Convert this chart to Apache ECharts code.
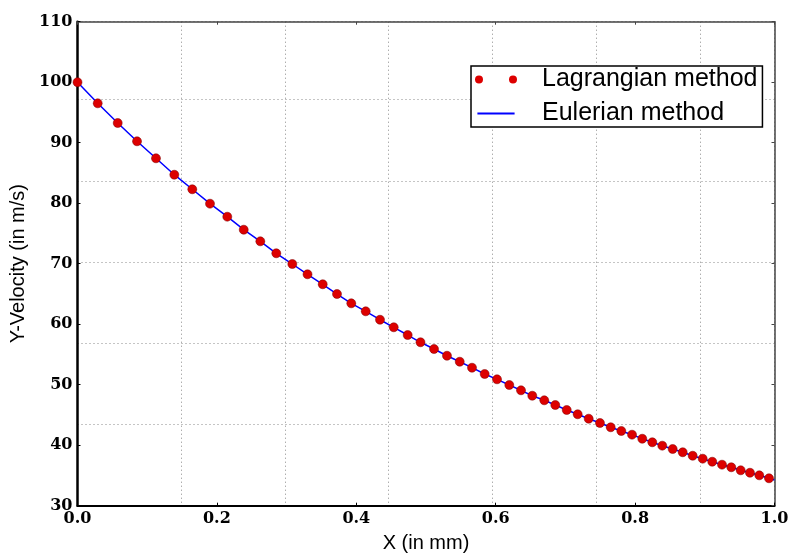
<!DOCTYPE html>
<html>
<head>
<meta charset="utf-8">
<script src="https://cdn.jsdelivr.net/npm/echarts@6/dist/echarts.min.js"></script>
<style>
html,body{margin:0;padding:0;background:#fff;}
#chart{width:791px;height:554px;}
</style>
</head>
<body>
<div id="chart"></div>
<script>
// Lagrangian method (markers)
const lagX = [0.000,0.029,0.0577,0.0854,0.1126,0.1389,0.1647,0.1901,0.2149,0.2385,0.2623,0.2852,0.3082,0.3300,0.3518,0.3723,0.3928,0.4135,0.4340,0.4537,0.4737,0.4921,0.5115,0.5301,0.5484,0.5660,0.5842,0.6019,0.6195,0.6363,0.6525,0.6697,0.6855,0.7019,0.7176,0.7334,0.7496,0.7650,0.7802,0.7956,0.8103,0.8247,0.8390,0.8539,0.8683,0.8826,0.8970,0.9107,0.9247,0.9380,0.9515,0.9648,0.9782,0.9921];
const lagY = [100.0,96.51,93.26,90.23,87.42,84.71,82.30,79.92,77.77,75.62,73.70,71.72,69.95,68.25,66.60,64.99,63.45,62.13,60.74,59.49,58.21,57.01,55.90,54.79,53.80,52.81,51.77,50.89,49.95,49.07,48.18,47.42,46.64,45.82,45.11,44.38,43.67,42.96,42.35,41.74,41.07,40.48,39.92,39.37,38.83,38.26,37.77,37.27,36.78,36.35,35.85,35.45,35.02,34.53];
// Eulerian method (line)
const eulX = [0.000,0.029,0.0577,0.0854,0.1126,0.1389,0.1647,0.1901,0.2149,0.2385,0.2623,0.2852,0.3082,0.3300,0.3518,0.3723,0.3928,0.4135,0.4340,0.4537,0.4737,0.4921,0.5115,0.5301,0.5484,0.5660,0.5842,0.6019,0.6195,0.6363,0.6525,0.6697,0.6855,0.7019,0.7176,0.7334,0.7496,0.7650,0.7802,0.7956,0.8103,0.8247,0.8390,0.8539,0.8683,0.8826,0.8970,0.9107,0.9247,0.9380,0.9515,0.9648,0.9782,0.9921,1.000];
const eulY = [100.0,96.51,93.26,90.23,87.42,84.71,82.30,79.92,77.77,75.62,73.70,71.72,69.95,68.25,66.60,64.99,63.45,62.13,60.74,59.49,58.21,57.01,55.90,54.79,53.80,52.81,51.77,50.89,49.95,49.07,48.18,47.42,46.64,45.82,45.11,44.38,43.67,42.96,42.35,41.74,41.07,40.48,39.92,39.37,38.83,38.26,37.77,37.27,36.78,36.35,35.85,35.45,35.02,34.53,34.25];

const xTicks = {min: 0, max: 1, step: 0.2};
const yTicks = {min: 30, max: 110, step: 10};
const seriesNames = ['Lagrangian method', 'Eulerian method'];

const lagData = lagX.map((x, i) => [x, lagY[i]]);
const eulData = eulX.map((x, i) => [x, eulY[i]]);

const tickFont = {fontFamily: 'DejaVu Serif', fontWeight: 'bold', fontSize: 16, color: '#000'};
const titleFont = {fontFamily: 'Liberation Sans', fontSize: 20, color: '#000'};
const gridDots = {show: true, lineStyle: {color: '#8a8a8a', width: 1, type: [1, 3]}};

const chart = echarts.init(document.getElementById('chart'), null, {renderer: 'canvas'});
chart.setOption({
  animation: false,
  backgroundColor: '#fff',
  grid: {left: 77.5, right: 16.5, top: 21.7, bottom: 48.3, containLabel: false, outerBoundsMode: 'none'},
  legend: {
    orient: 'vertical',
    left: 471, top: 66,
    selectedMode: false,
    backgroundColor: '#fff',
    borderColor: '#000', borderWidth: 1.5, borderRadius: 0,
    padding: [1, 5, 1, 4],
    itemGap: 9,
    itemWidth: 42, itemHeight: 8,
    textStyle: {fontFamily: 'Liberation Sans', fontSize: 25, color: '#000', padding: [0, 0, 0, 20]},
    data: [
      {name: seriesNames[0], icon: 'path://M0,4 A4,4 0 1,0 8,4 A4,4 0 1,0 0,4 Z M34,4 A4,4 0 1,0 42,4 A4,4 0 1,0 34,4 Z', itemStyle: {borderWidth: 0}},
      {name: seriesNames[1], icon: 'path://M0,0 M42,8 M2.4,3 L39.6,3 L39.6,5 L2.4,5 Z'}
    ]
  },
  xAxis: [
    {
      type: 'value', min: xTicks.min, max: xTicks.max, interval: xTicks.step, position: 'bottom',
      axisLine: {show: true, onZero: false, lineStyle: {color: '#000', width: 2}},
      axisTick: {show: true, inside: true, length: 3, lineStyle: {color: '#000', width: 1}},
      axisLabel: Object.assign({margin: 5, formatter: v => v.toFixed(1)}, tickFont),
      splitLine: {show: false},
      name: 'X (in mm)', nameLocation: 'middle', nameGap: 28, nameTextStyle: titleFont
    },
    {
      type: 'value', min: 0, max: 6.72, interval: 1, position: 'top',
      axisLine: {show: false}, axisTick: {show: false}, axisLabel: {show: false},
      splitLine: gridDots
    },
    {
      type: 'value', min: xTicks.min, max: xTicks.max, interval: xTicks.step, position: 'top',
      axisLine: {show: true, onZero: false, lineStyle: {color: '#444', width: 1.5}},
      axisTick: {show: true, inside: true, length: 3, lineStyle: {color: '#444', width: 1}},
      axisLabel: {show: false}, splitLine: {show: false}
    }
  ],
  yAxis: [
    {
      type: 'value', min: yTicks.min, max: yTicks.max, interval: yTicks.step, position: 'left',
      axisLine: {show: true, onZero: false, lineStyle: {color: '#000', width: 2.5}},
      axisTick: {show: true, inside: true, length: 3, lineStyle: {color: '#000', width: 1}},
      axisLabel: Object.assign({margin: 5}, tickFont),
      splitLine: {show: false},
      name: 'Y-Velocity (in m/s)', nameLocation: 'middle', nameGap: 40, nameTextStyle: titleFont
    },
    {
      type: 'value', min: 0, max: 5.96, interval: 1, position: 'right',
      axisLine: {show: false}, axisTick: {show: false}, axisLabel: {show: false},
      splitLine: gridDots
    },
    {
      type: 'value', min: yTicks.min, max: yTicks.max, interval: yTicks.step, position: 'right',
      axisLine: {show: true, onZero: false, lineStyle: {color: '#444', width: 1.5}},
      axisTick: {show: true, inside: true, length: 3, lineStyle: {color: '#444', width: 1}},
      axisLabel: {show: false}, splitLine: {show: false}
    }
  ],
  series: [
    {
      name: seriesNames[1], type: 'line', xAxisIndex: 0, yAxisIndex: 0,
      data: eulData, showSymbol: false, smooth: false, z: 2,
      color: '#0000ff',
      lineStyle: {color: '#0000ff', width: 1.5},
      itemStyle: {color: '#0000ff'}
    },
    {
      name: seriesNames[0], type: 'scatter', xAxisIndex: 0, yAxisIndex: 0,
      data: lagData, symbol: 'circle', symbolSize: 9, z: 3,
      itemStyle: {color: '#dd0000', borderColor: '#7a0000', borderWidth: 0.5, opacity: 1}
    }
  ]
});
</script>
</body>
</html>
